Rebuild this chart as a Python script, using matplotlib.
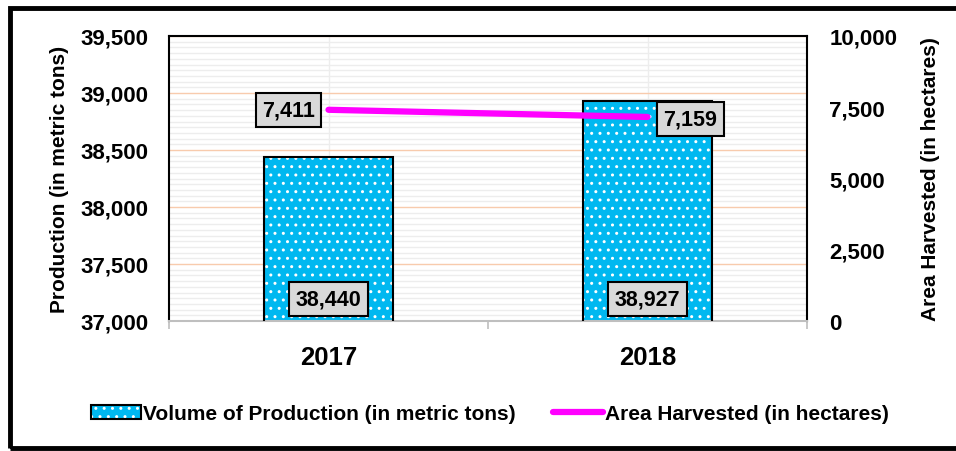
import numpy as np
import matplotlib.pyplot as plt
from matplotlib.patches import Rectangle
from matplotlib.lines import Line2D
from matplotlib.ticker import MultipleLocator, FuncFormatter

plt.rcParams['font.family'] = ['Liberation Sans', 'DejaVu Sans']
plt.rcParams['font.weight'] = 'bold'
plt.rcParams['hatch.linewidth'] = 1.0

# data
years = ['2017', '2018']
production = [38440, 38927]
area = [7411, 7159]

bar_color = '#00B8F0'
line_color = '#FF00FF'
label_box = dict(boxstyle='square,pad=0.3', fc='#D9D9D9', ec='black', lw=1.5)

W, H = 956, 452
fig = plt.figure(figsize=(W / 100, H / 100), dpi=100)
ax = fig.add_axes([169 / W, 1 - 322 / H, (807 - 169) / W, (322 - 37) / H])
ax2 = ax.twinx()

x = np.arange(len(years))
thousands = FuncFormatter(lambda v, p: f'{v:,.0f}')

# bars: fill with white dots, then a black outline
ax.bar(x, production, width=0.405, color=bar_color, edgecolor='white',
       hatch='..', linewidth=0, zorder=2)
ax.bar(x, production, width=0.405, fill=False, edgecolor='black',
       linewidth=1.5, zorder=3)
for xi, v in zip(x, production):
    ax.annotate(f'{v:,}', (xi, 37000), xytext=(0, 22), textcoords='offset pixels',
                ha='center', va='center', fontsize=15.5, fontweight='bold',
                bbox=label_box, zorder=5)

ax.set_ylim(37000, 39500)
ax.set_xlim(-0.5, 1.5)
ax.yaxis.set_major_locator(MultipleLocator(500))
ax.yaxis.set_minor_locator(MultipleLocator(50))
ax.yaxis.set_major_formatter(thousands)
ax.grid(axis='y', which='minor', color='#EDEDED', lw=1, zorder=0)
ax.grid(axis='y', which='major', color='#F8CBAD', lw=1, zorder=0)
ax.set_axisbelow(True)
for xi in x:
    ax.axvline(xi, color='#EDEDED', lw=1, zorder=0)

ax.set_xticks(x)
ax.set_xticklabels(years, fontsize=18.5, fontweight='bold')
ax.set_xticks([-0.5, 0.5, 1.5], minor=True)
ax.tick_params(axis='x', which='major', length=0, pad=17)
ax.tick_params(axis='x', which='minor', length=6, color='#BFBFBF', width=1.2)
ax.tick_params(axis='y', which='both', length=0, labelsize=16, pad=15)
ax.set_ylabel('Production (in metric tons)', fontsize=15, fontweight='bold', labelpad=8)

ax.spines['bottom'].set_color('#BFBFBF')
ax.spines['bottom'].set_linewidth(1.5)
for s in ['left', 'top', 'right']:
    ax.spines[s].set_linewidth(1.5)

# line on secondary axis
ax2.plot(x, area, color=line_color, lw=4.5, solid_capstyle='round', zorder=4)
ax2.set_ylim(0, 10000)
ax2.yaxis.set_major_locator(MultipleLocator(2500))
ax2.yaxis.set_major_formatter(thousands)
ax2.tick_params(axis='y', length=0, labelsize=16, pad=16)
ax2.set_ylabel('Area Harvested (in hectares)', fontsize=15, fontweight='bold', labelpad=17)
ax2.annotate(f'{area[0]:,}', (x[0], area[0]), xytext=(-40, 0), textcoords='offset pixels',
             ha='center', va='center', fontsize=15.5, fontweight='bold', bbox=label_box)
ax2.annotate(f'{area[1]:,}', (x[1], area[1]), xytext=(43, -2), textcoords='offset pixels',
             ha='center', va='center', fontsize=15.5, fontweight='bold', bbox=label_box)
for s in ax2.spines.values():
    s.set_visible(False)

# legend
h1 = Rectangle((0, 0), 1, 1, facecolor=bar_color, edgecolor='white', hatch='..', lw=0)
h1b = Rectangle((0, 0), 1, 1, fill=False, edgecolor='black', lw=1.5)
h2 = Line2D([0], [0], color=line_color, lw=4.5, solid_capstyle='round')
fig.legend([(h1, h1b), h2],
           ['Volume of Production (in metric tons)', 'Area Harvested (in hectares)'],
           loc='center', bbox_to_anchor=(490 / W, 1 - 415 / H), ncol=2, frameon=False,
           prop={'size': 15, 'weight': 'bold'}, handlelength=2.4, handleheight=0.65,
           handletextpad=0.1, columnspacing=1.8)

# outer frame
fig.patches.append(Rectangle((10 / W, 3 / H), 1.0, 1 - 12 / H, transform=fig.transFigure,
                             fill=False, edgecolor='black', lw=3.5))

fig.savefig('out.png', dpi=100)
